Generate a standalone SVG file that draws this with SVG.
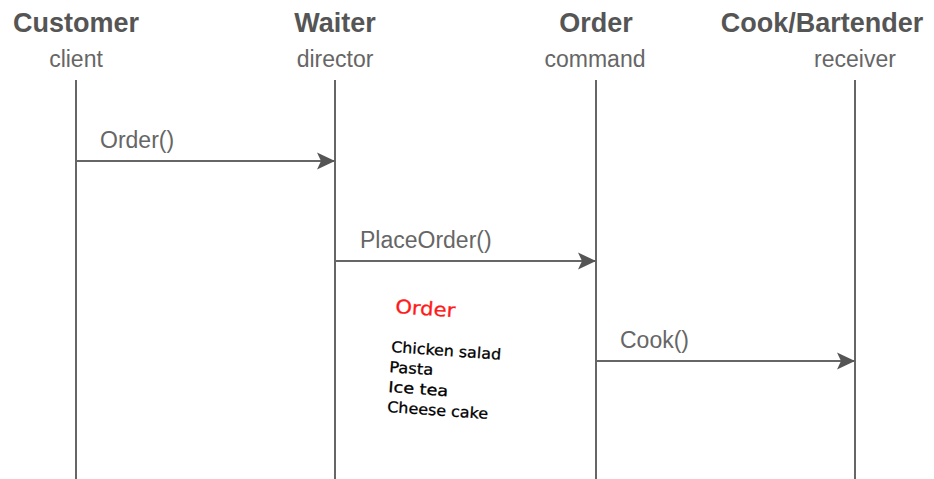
<svg xmlns="http://www.w3.org/2000/svg" width="934" height="479" viewBox="0 0 934 479">
<style>
.title{font-family:"Liberation Sans",Arial,sans-serif;font-weight:bold;font-size:27px;fill:#555;text-anchor:middle}
.sub{font-family:"Liberation Sans",Arial,sans-serif;font-size:23px;fill:#666;text-anchor:middle}
.lbl{font-family:"Liberation Sans",Arial,sans-serif;font-size:23px;fill:#666}
.life{stroke:#666;stroke-width:2;fill:none}
.msg{stroke:#666;stroke-width:2;fill:none}
.hand{font-family:"DejaVu Sans",sans-serif;font-size:15px;fill:#000;stroke:#000;stroke-width:0.3}
</style>
<defs>
<marker id="arr" markerUnits="userSpaceOnUse" markerWidth="20" markerHeight="20" viewBox="0 0 20 20" refX="18" refY="10" orient="auto">
<path d="M18,10 L0,1.5 L4,10 L0,18.5 Z" fill="#555"/>
</marker>
</defs>
<rect width="934" height="479" fill="#fff"/>
<g id="customer">
<text class="title" x="76" y="32">Customer</text>
<text class="sub" x="76" y="67">client</text>
<line class="life" x1="76" y1="80" x2="76" y2="479"/>
</g>
<g id="waiter">
<text class="title" x="335" y="32">Waiter</text>
<text class="sub" x="335" y="67">director</text>
<line class="life" x1="335" y1="80" x2="335" y2="479"/>
</g>
<g id="order">
<text class="title" x="596" y="32">Order</text>
<text class="sub" x="595" y="67">command</text>
<line class="life" x1="596" y1="80" x2="596" y2="479"/>
</g>
<g id="cook">
<text class="title" x="822" y="32">Cook/Bartender</text>
<text class="sub" x="855" y="67">receiver</text>
<line class="life" x1="855" y1="80" x2="855" y2="479"/>
</g>
<g id="connectors">
<line class="msg" x1="76" y1="161" x2="335" y2="161" marker-end="url(#arr)"/>
<text class="lbl" x="100" y="148">Order()</text>
<line class="msg" x1="335" y1="261" x2="596" y2="261" marker-end="url(#arr)"/>
<text class="lbl" x="360" y="248">PlaceOrder()</text>
<line class="msg" x1="596" y1="361" x2="855" y2="361" marker-end="url(#arr)"/>
<text class="lbl" x="620" y="348">Cook()</text>
</g>
<g id="note">
<text x="395" y="313" transform="rotate(4 395 313)" textLength="60" lengthAdjust="spacingAndGlyphs" style="font-family:'DejaVu Sans',sans-serif;font-size:19px;fill:#ff1a1a;stroke:#ff1a1a;stroke-width:0.3">Order</text>
<text class="hand" x="391" y="352" transform="rotate(4 391 352)" textLength="110" lengthAdjust="spacingAndGlyphs">Chicken salad</text>
<text class="hand" x="389" y="372" transform="rotate(4 389 372)" textLength="44" lengthAdjust="spacingAndGlyphs">Pasta</text>
<text class="hand" x="388" y="392" transform="rotate(4 388 392)" textLength="60" lengthAdjust="spacingAndGlyphs">Ice tea</text>
<text class="hand" x="387" y="412" transform="rotate(4 387 412)" textLength="101" lengthAdjust="spacingAndGlyphs">Cheese cake</text>
</g>
</svg>
